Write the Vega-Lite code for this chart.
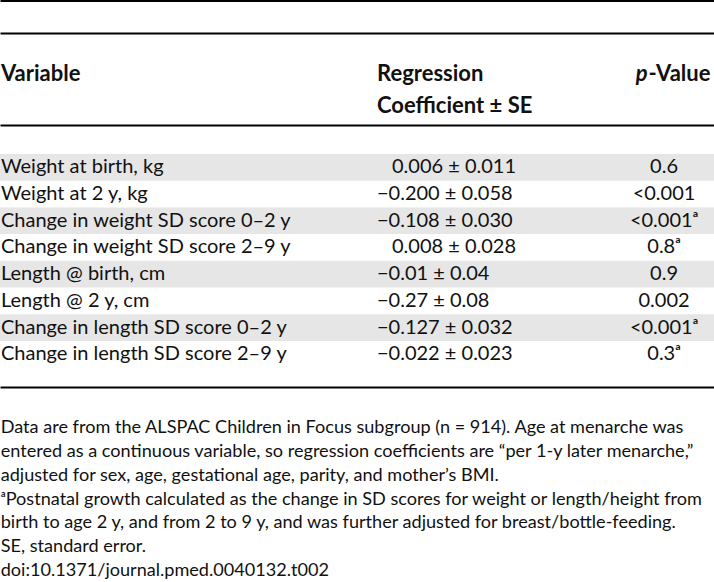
{
  "$schema": "https://vega.github.io/schema/vega-lite/v6.json",
  "padding": 0,
  "spacing": 0,
  "bounds": "flush",
  "background": "white",
  "config": {
    "view": {"stroke": null},
    "text": {"font": "Lato", "fontSize": 20, "color": "#111111", "align": "left", "baseline": "middle"},
    "axis": {"labels": false, "ticks": false, "grid": false, "domainColor": "#000000", "domainWidth": 2}
  },
  "resolve": {"scale": {"x": "independent", "y": "independent"}},
  "vconcat": [
    {
      "width": 714,
      "height": 32.5,
      "data": {"values": [{"text": ""}]},
      "mark": {"type": "text"},
      "encoding": {
        "x": {"datum": "variable", "type": "nominal", "scale": {"type": "band", "domain": ["variable", "coef", "p"], "paddingInner": 0, "paddingOuter": 0}, "axis": {"orient": "top", "title": null, "domainWidth": 3}},
        "text": {"field": "text"}
      }
    },
    {
      "width": 714,
      "height": 92,
      "data": {"values": [
        {"line": 1, "col": "variable", "text": "Variable"},
        {"line": 1, "col": "coef", "text": "Regression"},
        {"line": 2, "col": "coef", "text": "Coefficient ± SE"},
        {"line": 1, "col": "pitalic", "text": "p"},
        {"line": 1, "col": "p", "text": "-Value"}
      ]},
      "encoding": {
        "y": {"field": "line", "type": "ordinal", "scale": {"type": "band", "domain": [1, 2], "range": [25, 89], "paddingInner": 0, "paddingOuter": 0}, "axis": null},
        "text": {"field": "text"}
      },
      "layer": [
        {
          "transform": [{"filter": "datum.col == 'variable'"}],
          "mark": {"type": "text", "fontWeight": "bold", "fontSize": 22},
          "encoding": {"x": {"datum": "variable", "type": "nominal", "bandPosition": 0.004, "scale": {"type": "band", "domain": ["variable", "coef", "p"], "paddingInner": 0, "paddingOuter": 0}, "axis": {"orient": "top", "title": null}}}
        },
        {
          "transform": [{"filter": "datum.col == 'coef'"}],
          "mark": {"type": "text", "fontWeight": "bold", "fontSize": 22},
          "encoding": {"x": {"datum": "coef", "type": "nominal", "bandPosition": 0.584, "scale": {"type": "band", "domain": ["variable", "coef", "p"], "paddingInner": 0, "paddingOuter": 0}, "axis": {"orient": "top", "title": null}}}
        },
        {
          "transform": [{"filter": "datum.col == 'pitalic'"}],
          "mark": {"type": "text", "fontWeight": "bold", "fontStyle": "italic", "fontSize": 22, "align": "right"},
          "encoding": {"x": {"datum": "p", "type": "nominal", "bandPosition": 0.721, "scale": {"type": "band", "domain": ["variable", "coef", "p"], "paddingInner": 0, "paddingOuter": 0}, "axis": {"orient": "top", "title": null}}}
        },
        {
          "transform": [{"filter": "datum.col == 'p'"}],
          "mark": {"type": "text", "fontWeight": "bold", "fontSize": 22},
          "encoding": {"x": {"datum": "p", "type": "nominal", "bandPosition": 0.725, "scale": {"type": "band", "domain": ["variable", "coef", "p"], "paddingInner": 0, "paddingOuter": 0}, "axis": {"orient": "top", "title": null}}}
        }
      ]
    },
    {
      "width": 714,
      "height": 262,
      "data": {"values": [
        {"row": 1, "variable": "Weight at birth, kg", "coef": "0.006 ± 0.011", "p": "0.6"},
        {"row": 2, "variable": "Weight at 2 y, kg", "coef": "−0.200 ± 0.058", "p": "<0.001"},
        {"row": 3, "variable": "Change in weight SD score 0–2 y", "coef": "−0.108 ± 0.030", "p": "<0.001ᵃ"},
        {"row": 4, "variable": "Change in weight SD score 2–9 y", "coef": "0.008 ± 0.028", "p": "0.8ᵃ"},
        {"row": 5, "variable": "Length @ birth, cm", "coef": "−0.01 ± 0.04", "p": "0.9"},
        {"row": 6, "variable": "Length @ 2 y, cm", "coef": "−0.27 ± 0.08", "p": "0.002"},
        {"row": 7, "variable": "Change in length SD score 0–2 y", "coef": "−0.127 ± 0.032", "p": "<0.001ᵃ"},
        {"row": 8, "variable": "Change in length SD score 2–9 y", "coef": "−0.022 ± 0.023", "p": "0.3ᵃ"}
      ]},
      "encoding": {
        "y": {"field": "row", "type": "ordinal", "scale": {"type": "band", "domain": [1, 2, 3, 4, 5, 6, 7, 8], "range": [29, 242.6], "paddingInner": 0, "paddingOuter": 0}, "axis": null}
      },
      "layer": [
        {
          "transform": [{"filter": "datum.row % 2 == 1"}],
          "mark": {"type": "rect", "color": "#e6e6e6"}
        },
        {
          "mark": {"type": "text"},
          "encoding": {
            "x": {"datum": "variable", "type": "nominal", "bandPosition": 0.004, "scale": {"type": "band", "domain": ["variable", "coef", "p"], "paddingInner": 0, "paddingOuter": 0}, "axis": {"orient": "top", "title": null}},
            "text": {"field": "variable"}
          }
        },
        {
          "transform": [{"filter": "indexof(datum.coef, '−') == 0"}],
          "mark": {"type": "text"},
          "encoding": {
            "x": {"datum": "coef", "type": "nominal", "bandPosition": 0.584, "scale": {"type": "band", "domain": ["variable", "coef", "p"], "paddingInner": 0, "paddingOuter": 0}, "axis": {"orient": "top", "title": null}},
            "text": {"field": "coef"}
          }
        },
        {
          "transform": [{"filter": "indexof(datum.coef, '−') != 0"}],
          "mark": {"type": "text"},
          "encoding": {
            "x": {"datum": "coef", "type": "nominal", "bandPosition": 0.647, "scale": {"type": "band", "domain": ["variable", "coef", "p"], "paddingInner": 0, "paddingOuter": 0}, "axis": {"orient": "top", "title": null}},
            "text": {"field": "coef"}
          }
        },
        {
          "mark": {"type": "text", "align": "center"},
          "encoding": {
            "x": {"datum": "p", "type": "nominal", "bandPosition": 0.79, "scale": {"type": "band", "domain": ["variable", "coef", "p"], "paddingInner": 0, "paddingOuter": 0}, "axis": {"orient": "top", "title": null}},
            "text": {"field": "p"}
          }
        }
      ]
    },
    {
      "width": 714,
      "height": 194,
      "data": {"values": [
        {"line": 1, "text": "Data are from the ALSPAC Children in Focus subgroup (n = 914). Age at menarche was"},
        {"line": 2, "text": "entered as a continuous variable, so regression coefficients are “per 1-y later menarche,”"},
        {"line": 3, "text": "adjusted for sex, age, gestational age, parity, and mother’s BMI."},
        {"line": 4, "text": "ᵃPostnatal growth calculated as the change in SD scores for weight or length/height from"},
        {"line": 5, "text": "birth to age 2 y, and from 2 to 9 y, and was further adjusted for breast/bottle-feeding."},
        {"line": 6, "text": "SE, standard error."},
        {"line": 7, "text": "doi:10.1371/journal.pmed.0040132.t002"}
      ]},
      "mark": {"type": "text", "fontSize": 18.1},
      "encoding": {
        "x": {"datum": "variable", "type": "nominal", "bandPosition": 0.003, "scale": {"type": "band", "domain": ["variable", "coef", "p"], "paddingInner": 0, "paddingOuter": 0}, "axis": {"orient": "top", "title": null}},
        "y": {"field": "line", "type": "ordinal", "scale": {"type": "band", "domain": [1, 2, 3, 4, 5, 6, 7], "range": [29.1, 195.9], "paddingInner": 0, "paddingOuter": 0}, "axis": null},
        "text": {"field": "text"}
      }
    }
  ]
}
